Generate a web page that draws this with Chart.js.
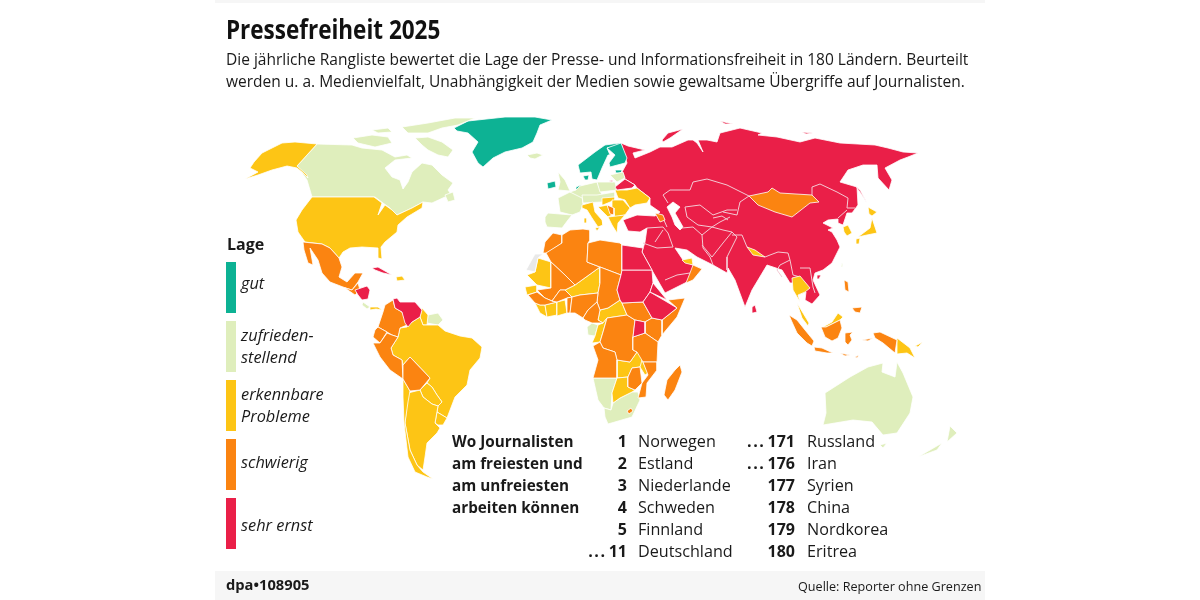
<!DOCTYPE html>
<html>
<head>
<meta charset="utf-8">
<script src="https://cdn.jsdelivr.net/npm/chart.js@4"></script>
<style>
html,body{margin:0;padding:0;background:#fff;}
#wrap{position:relative;width:1200px;height:600px;overflow:hidden;font-family:"Open Sans",sans-serif;color:#1a1a1a;}
#map{position:absolute;left:0;top:0;}
.t{position:absolute;white-space:nowrap;transform-origin:0 0;}
.band{position:absolute;left:215px;width:770px;background:#f6f6f6;}
.sw{position:absolute;left:226px;width:10px;height:51px;}
.leg{font-style:italic;font-size:16px;line-height:22px;transform:scaleX(1.02);}
.b{font-weight:700;font-size:15.5px;transform:scaleX(.985);}
.r{font-size:16px;transform:scaleX(1.01);}
.num{font-weight:700;font-size:16px;text-align:right;}
.num span{letter-spacing:1.6px;margin-right:2px;}
</style>
</head>
<body>
<div id="wrap">
<div class="band" style="top:0;height:3px"></div>
<div class="band" style="top:571px;height:29px"></div>
<canvas id="map" width="1200" height="600"></canvas>
<div class="t" style="left:226px;top:11px;font-size:26px;font-weight:700;color:#111;transform:scaleX(.865)">Pressefreiheit 2025</div>
<div class="t" style="left:226px;top:47px;font-size:16.5px;transform:scaleX(.94)">Die jährliche Rangliste bewertet die Lage der Presse- und Informationsfreiheit in 180 Ländern. Beurteilt</div>
<div class="t" style="left:226px;top:69px;font-size:16.5px;transform:scaleX(.94)">werden u. a. Medienvielfalt, Unabhängigkeit der Medien sowie gewaltsame Übergriffe auf Journalisten.</div>

<div class="t" style="left:227px;top:233px;font-size:16px;font-weight:700">Lage</div>
<div id="legend"></div>
<div id="ranks"></div>
<div class="t" style="left:226px;top:575px;font-size:14px;font-weight:700;transform:scaleX(1.05)">dpa•108905</div>
<div class="t" style="left:798px;top:577px;font-size:13.5px;transform:scaleX(.935)">Quelle: Reporter ohne Grenzen</div>
</div>
<script>
// legend + ranking
var legendLabels = [["gut"], ["zufrieden-", "stellend"], ["erkennbare", "Probleme"], ["schwierig"], ["sehr ernst"]];
var legendColors = ["#0db294", "#dfeebc", "#fdc515", "#fb8411", "#ea1f48"];
var rankIntro = ["Wo Journalisten", "am freiesten und", "am unfreiesten", "arbeiten können"];
var topRanks = ["1", "2", "3", "4", "5", "<span>...</span>11"];
var topNames = ["Norwegen", "Estland", "Niederlande", "Schweden", "Finnland", "Deutschland"];
var lastRanks = ["<span>...</span>171", "<span>...</span>176", "177", "178", "179", "180"];
var lastNames = ["Russland", "Iran", "Syrien", "China", "Nordkorea", "Eritrea"];

// outlines, map units
var greenland = [[454,128],[468,121],[505,117],[535,117],[552,120],[540,125],[537,133],[533,142],[522,148],[505,152],[493,158],[483,167],[478,163],[472,152],[478,142],[468,133],[457,131]];
var scandinavia = [[578,165],[595,152],[605,145],[620,143],[621,145],[607,148],[610,155],[608,155],[602,168],[597,180],[592,179],[591,172],[580,173]];
var finland = [[607,148],[621,143],[627,158],[625,163],[610,167],[609,163],[615,155]];
var estonia = [[615,170],[622,170],[621,173],[616,173]];
var denmark = [[583,176],[589,175],[588,180],[585,180]];
var ireland = [[547,183],[555,181],[556,187],[548,189]];
var netherlands = [[576,187],[581,185],[580,190],[576,190]];

var canada = [[317,144],[352,145],[362,148],[382,150],[395,157],[407,155],[412,158],[395,160],[385,168],[392,177],[400,180],[403,189],[408,182],[412,172],[422,163],[432,165],[442,175],[453,183],[448,190],[455,200],[445,197],[432,203],[423,202],[412,208],[397,215],[390,208],[383,203],[375,197],[312,197],[307,180],[297,166]];
var baffin = [[415,138],[428,137],[442,142],[453,150],[448,157],[438,155],[428,150],[422,145]];
var victoria = [[353,138],[372,135],[388,137],[392,143],[375,147],[358,143]];
var banks = [[372,130],[388,128],[392,132],[378,133]];
var ellesmere = [[402,127],[428,123],[455,118],[475,118],[458,125],[442,128],[428,133],[408,133]];
var newfoundland = [[445,195],[453,192],[455,200],[448,202]];
var iceland = [[527,155],[537,153],[543,155],[535,159],[530,158]];
var uk = [[558,172],[565,180],[570,191],[558,190],[560,182]];
var france = [[558,198],[570,192],[582,195],[583,205],[580,212],[572,215],[560,212]];
var germany = [[580,186],[597,182],[602,195],[597,200],[582,198],[570,192],[576,190]];
var poland = [[597,182],[615,182],[617,190],[600,192]];
var baltics = [[610,175],[623,172],[625,178],[617,182]];
var iberia = [[545,217],[548,213],[572,215],[568,220],[562,228],[547,227],[545,222]];
var alpine = [[582,195],[597,195],[615,192],[615,197],[602,202],[583,203]];
var gabon = [[587,327],[592,323],[598,325],[595,336],[588,335]];
var namibia = [[593,378],[617,378],[612,393],[611,410],[604,408],[598,400]];
var southAfrica = [[613,403],[620,398],[632,392],[638,392],[640,400],[632,417],[608,424],[605,417],[604,408],[611,410]];
var surinameGuiana = [[428,315],[438,313],[443,320],[438,325],[427,323]];
var costaRica = [[363,302],[370,307],[367,309],[362,305]];
var taiwan = [[842,263],[843,263],[843,267],[841,267]];
var australia = [[825,393],[850,377],[868,367],[883,363],[882,372],[895,377],[897,362],[903,373],[913,397],[910,413],[897,433],[883,435],[872,422],[853,420],[823,425],[826,413]];
var tasmania = [[880,445],[887,443],[883,448]];
var nzNorth = [[950,426],[957,433],[947,442]];
var nzSouth = [[918,457],[942,443],[937,450]];

var alaska = [[245,179],[258,172],[250,168],[254,162],[262,153],[282,143],[295,142],[317,144],[297,166],[307,175],[308,178],[302,172],[297,168],[287,166],[272,170],[258,175]];
var usa = [[312,197],[374,197],[382,203],[378,215],[385,205],[392,210],[397,215],[412,208],[423,202],[422,208],[407,217],[398,225],[397,232],[385,242],[381,247],[382,259],[378,258],[378,248],[362,247],[350,248],[343,252],[339,258],[330,248],[322,244],[305,242],[298,232],[296,220],[302,210]];
var hispaniola = [[396,277],[402,276],[405,280],[397,281]];
var panama = [[370,307],[378,307],[382,310],[376,309],[370,310]];
var guyana = [[422,308],[428,315],[427,325],[423,325],[420,317]];
var brazil = [[398,337],[400,328],[407,327],[412,322],[420,317],[423,325],[438,325],[445,331],[460,336],[472,338],[482,347],[480,358],[470,370],[467,385],[455,397],[447,418],[437,412],[438,406],[442,402],[437,395],[432,387],[427,383],[430,378],[410,357],[403,365],[402,360],[393,355],[391,348]];
var paraguay = [[420,390],[427,383],[432,387],[437,395],[442,402],[438,406],[432,404],[423,397]];
var uruguay = [[435,423],[437,412],[447,418],[443,425],[438,425]];
var argentina = [[408,393],[420,390],[423,397],[432,404],[438,406],[435,423],[440,428],[437,433],[427,443],[425,457],[423,470],[417,465],[410,450],[405,423]];
var chile = [[403,379],[410,391],[408,402],[405,423],[410,450],[417,465],[423,472],[433,479],[427,477],[415,472],[408,457],[404,423],[403,397]];
var mauritania = [[538,258],[551,262],[551,288],[537,285],[527,275],[535,272]];
var niger = [[575,285],[600,267],[600,283],[598,293],[580,295],[572,297],[565,290]];
var senegal = [[525,287],[537,285],[537,292],[527,295]];
var liberia = [[535,303],[540,305],[545,305],[547,317],[540,313]];
var ivoryCoast = [[545,305],[557,302],[557,315],[547,317]];
var ghana = [[557,302],[565,300],[567,313],[557,316]];
var car = [[600,310],[608,308],[620,300],[622,303],[627,315],[607,318],[603,323],[598,320]];
var congo = [[598,325],[603,323],[607,318],[603,332],[600,342],[592,343],[595,336]];
var zambia = [[617,360],[630,362],[637,352],[643,357],[643,362],[640,367],[632,368],[628,377],[617,378]];
var malawi = [[642,360],[648,373],[645,375],[640,367]];
var botswana = [[617,378],[628,377],[628,387],[635,390],[632,392],[620,398],[613,403],[612,393]];
var italy = [[582,205],[593,202],[595,212],[602,220],[603,225],[598,227],[592,218],[587,210],[582,208]];
var sardinia = [[584,218],[587,218],[587,223],[584,223]];
var sicily = [[595,228],[600,227],[597,231]];
var croatia = [[598,207],[607,205],[612,215],[608,217]];
var hungary = [[602,198],[615,197],[615,200],[603,205]];
var romania = [[612,200],[623,200],[630,208],[625,215],[615,217],[612,208]];
var greece = [[608,217],[625,215],[618,223],[617,233],[612,225]];
var ukraine = [[615,190],[627,190],[637,188],[650,198],[647,203],[635,205],[630,208],[625,200],[618,198]];
var gulfStates = [[682,260],[692,258],[693,265],[685,263]];
var nepal = [[747,247],[755,250],[765,257],[753,255]];
var thailand = [[792,278],[800,276],[810,288],[805,292],[798,295],[800,302],[793,290]];
var malaya = [[797,303],[800,308],[809,323],[808,326],[802,318]];
var sabah = [[823,327],[832,322],[838,313],[843,317],[840,320],[826,327]];
var southKorea = [[843,227],[848,225],[852,233],[847,236],[844,232]];
var hokkaido = [[868,207],[877,212],[872,216],[869,214]];
var honshu = [[872,218],[877,233],[867,235],[858,237],[870,228]];
var kyushu = [[856,239],[860,238],[859,244],[857,244]];
var png = [[897,338],[910,348],[915,358],[907,353],[897,354]];
var newBritain = [[915,346],[923,342],[918,347]];

var mexico = [[303,242],[322,244],[330,248],[339,258],[342,267],[339,277],[347,282],[355,273],[363,273],[358,282],[352,290],[343,287],[330,282],[322,273],[318,260],[310,248],[313,265],[308,263],[304,250]];
var colombia = [[393,300],[395,308],[402,312],[407,325],[400,328],[398,337],[392,335],[387,332],[378,327],[383,312],[385,305]];
var ecuador = [[378,327],[387,332],[380,343],[373,337],[375,330]];
var peru = [[380,343],[387,333],[392,335],[398,337],[391,348],[393,355],[402,360],[403,379],[390,370],[380,357],[373,343]];
var bolivia = [[403,365],[410,357],[430,378],[420,390],[410,391],[403,379]];
var morocco = [[553,233],[562,235],[562,243],[547,253],[543,253],[545,242]];
var algeria = [[562,235],[570,230],[583,229],[590,230],[590,240],[588,243],[587,262],[600,267],[575,285],[565,275],[551,262],[546,253],[562,243]];
var libya = [[588,243],[600,240],[620,243],[622,245],[622,270],[621,275],[600,267],[587,262]];
var chad = [[600,267],[621,275],[617,290],[620,300],[608,308],[600,310],[597,302],[598,293],[600,283]];
var mali = [[551,262],[565,275],[575,285],[565,290],[560,290],[552,301],[545,298],[537,290],[551,288]];
var guinea = [[528,295],[537,292],[545,298],[552,301],[557,302],[545,305],[540,305],[535,303]];
var burkina = [[552,301],[560,290],[565,290],[572,297],[567,298],[557,302]];
var benin = [[567,298],[572,297],[570,313],[567,313]];
var nigeria = [[572,297],[580,295],[598,293],[597,302],[588,310],[583,318],[575,313],[570,313]];
var cameroon = [[597,302],[600,310],[598,320],[603,323],[592,323],[585,320],[583,318],[588,310]];
var drCongo = [[607,318],[627,315],[635,320],[633,337],[633,350],[637,352],[630,362],[617,360],[615,352],[603,348],[600,342],[603,332]];
var southSudan = [[622,303],[643,302],[652,318],[645,322],[635,320],[627,315]];
var somalia = [[668,300],[685,298],[677,317],[662,335],[662,320],[677,308]];
var kenya = [[645,322],[652,318],[662,320],[662,335],[658,342],[645,333]];
var tanzania = [[633,337],[645,333],[658,342],[657,362],[643,362],[637,352],[633,350]];
var angola = [[593,346],[600,342],[603,348],[615,352],[617,360],[617,378],[593,378],[598,360]];
var mozambique = [[643,362],[657,362],[657,370],[647,383],[646,397],[638,398],[642,383],[648,375]];
var zimbabwe = [[628,377],[632,368],[640,367],[642,383],[635,390],[628,387]];
var lesotho = [[627,411],[631,408],[633,411],[629,414]];
var madagascar = [[680,365],[682,372],[675,390],[668,400],[664,395],[667,380],[675,370]];
var guatemala = [[345,288],[352,290],[358,283],[360,290],[355,295]];
var serbia = [[607,205],[614,208],[614,215],[610,214]];
var caucasus = [[655,213],[663,215],[665,220],[660,222]];
var oman = [[693,265],[702,269],[693,280],[686,283],[690,273]];
var mongolia = [[749,196],[768,192],[772,188],[780,193],[812,195],[819,202],[810,203],[792,217],[775,212],[758,205]];
var sumatra = [[789,315],[797,320],[805,330],[814,341],[812,346],[807,343],[797,333],[792,322]];
var java = [[814,347],[822,348],[833,353],[827,353],[815,351]];
var borneo = [[821,327],[826,327],[840,320],[842,328],[838,338],[832,341],[825,337]];
var sulawesi = [[845,333],[853,332],[850,335],[852,340],[848,345],[845,342]];
var luzon = [[844,280],[848,282],[849,292],[845,290]];
var mindanao = [[852,308],[862,307],[860,313],[855,312]];
var papua = [[873,333],[880,332],[897,340],[895,353],[883,343],[875,338]];
var timor = [[840,353],[850,355],[845,356]];
var flores = [[855,357],[859,355],[857,358]];
var ceram = [[862,340],[873,338],[868,341]];

var eurasia = [[621,143],[628,146],[645,150],[633,153],[635,158],[650,152],[660,147],[672,147],[688,140],[693,140],[697,143],[703,152],[698,140],[707,140],[717,142],[720,133],[732,130],[740,128],[762,133],[758,135],[777,137],[800,142],[815,138],[840,143],[875,145],[888,148],[903,152],[918,153],[908,157],[900,160],[885,168],[892,180],[889,190],[878,178],[877,165],[863,165],[848,170],[840,182],[857,187],[858,205],[852,213],[847,213],[843,225],[838,223],[838,219],[828,220],[823,223],[833,228],[828,230],[832,232],[837,240],[840,247],[837,253],[832,263],[823,270],[815,273],[813,280],[820,295],[812,304],[805,300],[806,292],[798,295],[793,290],[797,283],[790,283],[782,270],[767,265],[752,290],[745,307],[735,280],[728,268],[727,273],[713,265],[697,257],[687,250],[675,248],[683,260],[693,265],[702,269],[687,282],[665,293],[653,272],[642,252],[645,242],[647,228],[640,232],[628,231],[623,220],[637,215],[655,216],[660,212],[650,205],[650,198],[637,188],[635,185],[625,179],[622,172],[627,163]];
var sudan = [[622,270],[652,270],[653,283],[650,292],[643,302],[622,303],[620,300],[617,290],[621,275]];
var egypt = [[622,245],[643,248],[642,252],[652,270],[622,270]];
var ethiopia = [[650,292],[667,302],[677,308],[662,320],[652,318],[643,302]];
var eritrea = [[653,283],[667,300],[650,292]];
var uganda = [[635,320],[645,322],[645,333],[633,337]];
var belarus = [[615,187],[625,179],[635,185],[632,188],[617,190]];
var kaliningrad = [[609,181],[613,180],[613,182]];
var honduras = [[355,290],[367,286],[370,290],[368,299],[362,300],[358,295]];
var cuba = [[372,268],[378,267],[392,275],[383,273],[375,270]];
var venezuela = [[393,299],[397,298],[400,302],[415,302],[422,310],[420,317],[412,322],[408,327],[405,323],[402,312],[395,308]];
var sriLanka = [[752,307],[755,305],[757,312],[753,313]];
var hainan = [[817,275],[821,275],[819,279],[817,279]];
var sakhalin = [[855,185],[860,190],[867,203],[862,195]];
var novayaZemlya = [[662,140],[668,133],[683,129],[670,138],[663,142]];
var severnaya = [[720,121],[733,124],[725,124]];
var newSiberian = [[802,132],[813,133],[806,134]];

var westernSahara = [[543,254],[535,254],[526,270],[535,272],[538,258]];
var caspian = [[667,207],[673,202],[680,207],[675,213],[683,227],[680,230],[675,225],[672,217]];

// white borders inside the red block
var borderLines = [
  [[668,203],[663,195],[670,190],[690,190],[693,182],[707,179],[727,185],[749,196]],
  [[812,195],[812,187],[820,184],[837,192],[848,198],[847,208],[855,208]],
  [[749,196],[740,202],[737,215],[723,212]],
  [[685,207],[700,205],[713,215],[727,210],[737,210]],
  [[685,207],[687,217],[698,225],[712,227],[720,222],[730,217]],
  [[682,228],[693,227],[702,235],[712,227],[723,230],[732,232],[723,243],[712,257],[702,245]],
  [[702,235],[703,248],[710,257],[713,265]],
  [[732,232],[737,237],[727,257],[727,270]],
  [[732,235],[742,235],[747,247]],
  [[778,252],[788,253],[790,260],[780,265],[777,270],[782,277]],
  [[790,260],[793,275],[800,277]],
  [[800,268],[810,268],[813,287],[815,293]],
  [[647,228],[663,227],[668,233],[673,247]],
  [[663,230],[655,242]],
  [[643,243],[657,248],[673,247]],
  [[665,280],[677,275],[690,273]],
  [[663,218],[667,227]],
  [[713,218],[722,216],[728,220]],
  [[765,257],[770,255],[778,252]],
  [[838,218],[847,210]]
];

var goodShapes = [greenland, scandinavia, finland, estonia, denmark, ireland, netherlands];
var fineShapes = [canada, baffin, victoria, banks, ellesmere, newfoundland, iceland, uk, france, germany, poland, baltics, iberia, alpine, gabon, namibia, southAfrica, surinameGuiana, costaRica, taiwan, australia, tasmania, nzNorth, nzSouth];
var problemShapes = [alaska, usa, hispaniola, panama, guyana, brazil, paraguay, uruguay, argentina, chile, mauritania, niger, senegal, liberia, ivoryCoast, ghana, car, congo, zambia, malawi, botswana, italy, sardinia, sicily, croatia, hungary, romania, greece, ukraine, gulfStates, nepal, thailand, malaya, sabah, southKorea, hokkaido, honshu, kyushu, png, newBritain];
var hardShapes = [mexico, colombia, ecuador, peru, bolivia, morocco, algeria, libya, chad, mali, guinea, burkina, benin, nigeria, cameroon, drCongo, southSudan, somalia, kenya, tanzania, angola, mozambique, zimbabwe, lesotho, madagascar, guatemala, serbia, caucasus, oman, mongolia, sumatra, java, borneo, sulawesi, luzon, mindanao, papua, timor, flores, ceram];
var seriousShapes = [sudan, egypt, ethiopia, eritrea, uganda, belarus, kaliningrad, honduras, cuba, venezuela, sriLanka, hainan, sakhalin, novayaZemlya, severnaya, newSiberian];

var datasets = [];
function addShape(pts, color, line) {
    var closed = line ? pts : pts.concat([pts[0]]);
    datasets.push({
        data: closed.map(function(p){ return {x: p[0], y: p[1]}; }),
        showLine: true,
        pointRadius: 0,
        tension: 0,
        borderWidth: line ? 1 : 0.8,
        borderColor: line ? "#f4c9d3" : "#ffffff",
        backgroundColor: color,
        fill: line ? false : "shape",
        order: -datasets.length
    });
}
addShape(eurasia, legendColors[4]);
addShape(caspian, "#ffffff");
borderLines.forEach(function(l){ addShape(l, null, true); });
[goodShapes, fineShapes, problemShapes, hardShapes, seriousShapes].forEach(function(group, i){
    group.forEach(function(s){ addShape(s, legendColors[i]); });
});
addShape(westernSahara, "#e9e9e9");

new Chart(document.getElementById("map"), {
    type: "scatter",
    data: {datasets: datasets},
    options: {
        responsive: false,
        animation: false,
        layout: {padding: 0},
        plugins: {legend: {display: false}, tooltip: {enabled: false}},
        scales: {
            x: {type: "linear", display: false, min: 0, max: 1200},
            y: {type: "linear", display: false, min: 0, max: 600, reverse: true}
        }
    }
});

// texts
var wrap = document.getElementById("wrap");
function addText(html, cls, left, top, w) {
    var d = document.createElement("div");
    d.className = "t " + cls;
    d.innerHTML = html;
    d.style.left = left + "px";
    d.style.top = top + "px";
    if (w) d.style.width = w + "px";
    wrap.appendChild(d);
}
var swatchTops = [262, 321, 380, 439, 498];
var legendTops = [272, 324, 383, 451, 514];
legendLabels.forEach(function(lines, i){
    var s = document.createElement("div");
    s.className = "sw";
    s.style.top = swatchTops[i] + "px";
    s.style.background = legendColors[i];
    wrap.appendChild(s);
    lines.forEach(function(txt, j){ addText(txt, "leg", 241, legendTops[i] + j * 22); });
});
var rowTop = 430, rowStep = 21.9;
rankIntro.forEach(function(txt, i){ addText(txt, "b", 452, rowTop + i * rowStep); });
topRanks.forEach(function(r, i){
    addText(r, "num", 565, rowTop + i * rowStep, 62);
    addText(topNames[i], "r", 638, rowTop + i * rowStep);
});
lastRanks.forEach(function(r, i){
    addText(r, "num", 725, rowTop + i * rowStep, 70);
    addText(lastNames[i], "r", 807, rowTop + i * rowStep);
});
</script>
</body>
</html>
